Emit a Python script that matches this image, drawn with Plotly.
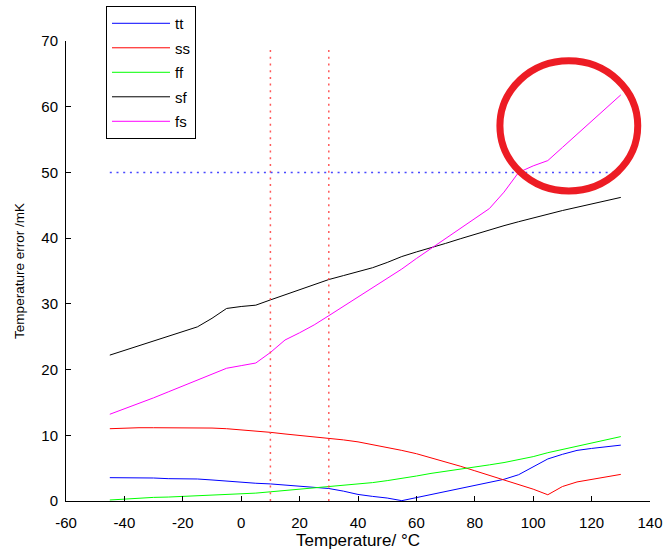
import plotly.graph_objects as go

temperature = [-45, -40, -35, -30, -25, -20, -15, -10, -5, 0, 5, 10, 15, 20, 25, 30, 35, 40,
               45, 50, 55, 60, 65, 70, 75, 80, 85, 90, 95, 100, 105, 110, 115, 120, 125, 130]

tt = [3.55, 3.55, 3.55, 3.5, 3.4, 3.4, 3.35, 3.2, 3.0, 2.85, 2.7, 2.6, 2.4, 2.25, 2.1, 1.9, 1.5, 1.0,
      0.7, 0.45, 0.05, 0.5, 1.0, 1.5, 1.9, 2.3, 2.8, 3.3, 4.0, 5.2, 6.4, 7.1, 7.7, 8.0, 8.3, 8.5]
ss = [11.0, 11.1, 11.15, 11.15, 11.15, 11.15, 11.15, 11.1, 11.0, 10.85, 10.65, 10.45, 10.2, 10.0,
      9.8, 9.6, 9.3, 9.0, 8.6, 8.2, 7.7, 7.2, 6.6, 6.0, 5.3, 4.6, 3.9, 3.3, 2.6, 1.8, 0.95, 2.2,
      2.9, 3.3, 3.7, 4.05]
ff = [0.15, 0.3, 0.45, 0.55, 0.6, 0.7, 0.75, 0.8, 0.9, 1.0, 1.2, 1.4, 1.6, 1.8, 1.95, 2.1, 2.3, 2.5,
      2.8, 3.1, 3.4, 3.8, 4.2, 4.5, 4.85, 5.15, 5.5, 5.85, 6.25, 6.75, 7.35, 7.85, 8.3, 8.8, 9.3, 9.8]
sf = [22.2, 22.9, 23.6, 24.3, 25.0, 25.7, 26.5, 27.8, 29.3, 29.6, 29.8, 30.6, 31.4, 32.2, 33.0,
      33.7, 34.3, 34.9, 35.5, 36.3, 37.2, 37.9, 38.5, 39.2, 39.9, 40.6, 41.3, 41.9, 42.5, 43.1,
      43.6, 44.2, 44.7, 45.2, 45.7, 46.2]
fs = [13.2, 14.0, 14.8, 15.7, 16.6, 17.5, 18.5, 19.4, 20.2, 20.6, 21.0, 22.6, 24.5, 25.6, 26.8,
      28.2, 29.6, 31.0, 32.4, 33.8, 35.3, 36.9, 38.4, 39.9, 41.4, 42.9, 44.5, 47.0, 50.0, 51.0,
      51.8, 53.8, 55.8, 57.8, 59.8, 61.8]

series_names = ["tt", "ss", "ff", "sf", "fs"]
series_values = [tt, ss, ff, sf, fs]
series_colors = ["#0000FF", "#FF0000", "#00FF00", "#000000", "#FF00FF"]

limit_temperatures = [10, 30]
limit_error = 50
limit_y_top = 69

x_ticks = [-60, -40, -20, 0, 20, 40, 60, 80, 100, 120, 140]
x_tick_labels = ["-60", "-40", "-20", "0", "20", "40", "60", "80", "100", "120", "140"]
y_ticks = [0, 10, 20, 30, 40, 50, 60, 70]
y_tick_labels = ["0", "10", "20", "30", "40", "50", "60", "70"]

FONT = "Liberation Sans"

fig = go.Figure()
for name, vals, col in zip(series_names, series_values, series_colors):
    fig.add_trace(go.Scatter(x=temperature, y=vals, mode="lines", name=name,
                             legendgroup=name,
                             line=dict(color=col, width=1)))

for t in limit_temperatures:
    fig.add_shape(type="line", xref="x", yref="y", x0=t, x1=t, y0=0, y1=limit_y_top,
                  line=dict(color="rgba(255,60,60,0.85)", width=1.5, dash="2px,4.7px"))
fig.add_shape(type="line", xref="x", yref="y", x0=temperature[0], x1=temperature[-1],
              y0=limit_error, y1=limit_error,
              line=dict(color="rgba(40,40,255,0.85)", width=1.5, dash="2px,4.7px"))

# highlight circle
fig.add_shape(type="circle", xref="paper", yref="paper",
              x0=0.743, x1=0.979, y0=0.674, y1=0.957,
              line=dict(color="#ED1C24", width=7))

axis_common = dict(showline=True, linecolor="black", linewidth=1, ticks="inside",
                   ticklen=5, tickcolor="black", showgrid=False, zeroline=False,
                   tickfont=dict(family=FONT, size=15, color="black"), mirror=False)

fig.update_xaxes(range=[-60, 140], tickvals=x_ticks, ticktext=x_tick_labels,
                 ticklabelstandoff=8,
                 title=dict(text="Temperature/ °C", font=dict(family=FONT, size=17, color="black"),
                            standoff=3),
                 **axis_common)
fig.update_yaxes(range=[0, 70], tickvals=y_ticks, ticktext=y_tick_labels, ticklabelstandoff=4,
                 title=dict(text="Temperature error /mK", font=dict(family=FONT, size=13.5, color="black"),
                            standoff=13),
                 **axis_common)

fig.update_layout(
    width=665, height=552,
    margin=dict(l=66, r=15, t=41, b=51, autoexpand=False),
    paper_bgcolor="white", plot_bgcolor="white",
    font=dict(family=FONT, size=15, color="black"),
    legend=dict(x=0.0685, y=1.076, xanchor="left", yanchor="top",
                bgcolor="white", bordercolor="black", borderwidth=1,
                tracegroupgap=2, itemwidth=58,
                font=dict(family=FONT, size=15, color="black")),
)

fig.write_html("out.html", config={"displayModeBar": False},
               post_script="document.body.style.margin='0px';document.body.style.overflow='hidden';")
